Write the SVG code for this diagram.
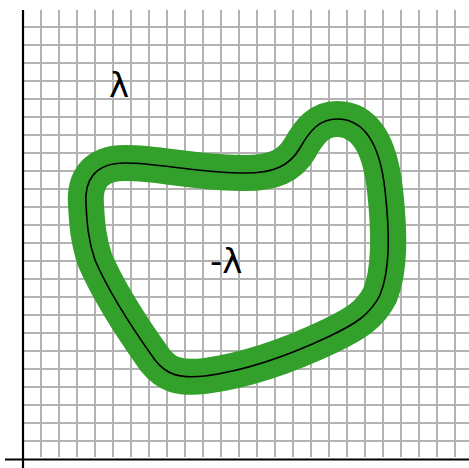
<svg xmlns="http://www.w3.org/2000/svg" width="469" height="468" viewBox="0 0 469 468">
<style>
.grid line{stroke:#b3b3b3;stroke-width:2}
.axis{stroke:#000;stroke-width:2.2}
.lbl{font-family:"DejaVu Sans",sans-serif;font-size:34px;fill:#000}
</style>
<rect width="469" height="468" fill="#fff"/>
<g class="grid" id="grid">
<g id="vlines">
<line x1="41" y1="10" x2="41" y2="457"/><line x1="59" y1="10" x2="59" y2="457"/><line x1="77" y1="10" x2="77" y2="457"/><line x1="95" y1="10" x2="95" y2="457"/><line x1="113" y1="10" x2="113" y2="457"/><line x1="131" y1="10" x2="131" y2="457"/><line x1="149" y1="10" x2="149" y2="457"/><line x1="167" y1="10" x2="167" y2="457"/><line x1="185" y1="10" x2="185" y2="457"/><line x1="203" y1="10" x2="203" y2="457"/><line x1="221" y1="10" x2="221" y2="457"/><line x1="239" y1="10" x2="239" y2="457"/><line x1="257" y1="10" x2="257" y2="457"/><line x1="275" y1="10" x2="275" y2="457"/><line x1="293" y1="10" x2="293" y2="457"/><line x1="311" y1="10" x2="311" y2="457"/><line x1="329" y1="10" x2="329" y2="457"/><line x1="347" y1="10" x2="347" y2="457"/><line x1="365" y1="10" x2="365" y2="457"/><line x1="383" y1="10" x2="383" y2="457"/><line x1="401" y1="10" x2="401" y2="457"/><line x1="419" y1="10" x2="419" y2="457"/><line x1="437" y1="10" x2="437" y2="457"/><line x1="455" y1="10" x2="455" y2="457"/>
</g>
<g id="hlines">
<line x1="22" y1="27" x2="469" y2="27"/><line x1="22" y1="45" x2="469" y2="45"/><line x1="22" y1="63" x2="469" y2="63"/><line x1="22" y1="81" x2="469" y2="81"/><line x1="22" y1="99" x2="469" y2="99"/><line x1="22" y1="117" x2="469" y2="117"/><line x1="22" y1="135" x2="469" y2="135"/><line x1="22" y1="153" x2="469" y2="153"/><line x1="22" y1="171" x2="469" y2="171"/><line x1="22" y1="189" x2="469" y2="189"/><line x1="22" y1="207" x2="469" y2="207"/><line x1="22" y1="225" x2="469" y2="225"/><line x1="22" y1="243" x2="469" y2="243"/><line x1="22" y1="261" x2="469" y2="261"/><line x1="22" y1="279" x2="469" y2="279"/><line x1="22" y1="297" x2="469" y2="297"/><line x1="22" y1="315" x2="469" y2="315"/><line x1="22" y1="333" x2="469" y2="333"/><line x1="22" y1="351" x2="469" y2="351"/><line x1="22" y1="369" x2="469" y2="369"/><line x1="22" y1="387" x2="469" y2="387"/><line x1="22" y1="405" x2="469" y2="405"/><line x1="22" y1="423" x2="469" y2="423"/><line x1="22" y1="441" x2="469" y2="441"/>
</g>
</g>
<g id="axes">
<line class="axis" x1="23" y1="10" x2="23" y2="468"/>
<line class="axis" x1="5" y1="459.5" x2="469" y2="459.5"/>
</g>
<g id="curve">
<path id="band" fill="none" stroke="#33a02c" stroke-width="36" stroke-linejoin="round" d="M 86,205 C 84,180 95,163 125,163 C 160,163 190,172 240,173 C 275,174 290,165 300,148 C 310,130 320,119 337,119 C 365,119 380,145 385,190 C 390,235 390,270 380,295 C 370,315 355,324 330,336 C 290,355 250,370 205,376 C 178,379 166,374 155,360 C 135,332 110,295 95,260 C 88,240 87,222 86,205 Z"/>
<path id="center" fill="none" stroke="#000" stroke-width="1.6" d="M 86,205 C 84,180 95,163 125,163 C 160,163 190,172 240,173 C 275,174 290,165 300,148 C 310,130 320,119 337,119 C 365,119 380,145 385,190 C 390,235 390,270 380,295 C 370,315 355,324 330,336 C 290,355 250,370 205,376 C 178,379 166,374 155,360 C 135,332 110,295 95,260 C 88,240 87,222 86,205 Z"/>
</g>
<g id="labels">
<text class="lbl" x="119" y="97" text-anchor="middle">λ</text>
<text class="lbl" x="210" y="273">-λ</text>
</g>
</svg>
